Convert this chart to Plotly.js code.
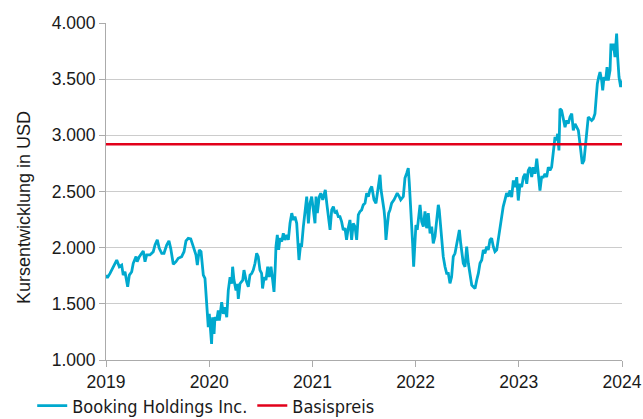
<!DOCTYPE html>
<html>
<head>
<meta charset="utf-8">
<script src="https://cdn.plot.ly/plotly-3.0.1.min.js"></script>
<style>html,body{margin:0;padding:0;background:#fff;}#chart{width:643px;height:419px;}</style>
</head>
<body>
<div id="chart"></div>
<script>
// Time positions in decimal years
const timeYears = [
2019.000,2019.013,2019.039,2019.071,2019.104,2019.129,2019.152,2019.167,2019.184,2019.210,2019.226,2019.249,2019.264,2019.291,2019.302,2019.323,2019.346,2019.361,2019.378,2019.394,2019.426,2019.458,2019.475,2019.497,2019.516,2019.540,2019.562,2019.588,2019.610,2019.627,2019.652,2019.678,2019.700,2019.733,2019.756,2019.775,2019.797,2019.821,2019.846,2019.872,2019.885,2019.904,2019.921,2019.943,2019.959,
2019.975,2019.991,2020.001,2020.014,2020.023,2020.033,2020.047,2020.056,2020.073,2020.088,2020.098,2020.111,2020.121,2020.137,2020.153,2020.170,2020.185,2020.202,2020.218,2020.227,2020.240,2020.260,2020.272,2020.282,2020.298,2020.325,2020.337,2020.357,2020.379,2020.395,2020.412,2020.427,2020.444,2020.460,2020.475,2020.492,2020.508,2020.517,2020.533,2020.550,2020.567,2020.581,2020.599,2020.615,2020.628,2020.640,2020.647,2020.660,2020.673,2020.686,2020.703,2020.718,2020.734,2020.751,2020.767,2020.783,2020.800,2020.815,2020.831,2020.848,2020.870,2020.887,
2020.895,2020.912,2020.928,2020.945,2020.961,2020.977,2020.993,2021.009,2021.025,2021.035,2021.048,2021.067,2021.081,2021.100,2021.112,2021.125,2021.139,2021.154,2021.171,2021.187,2021.203,2021.219,2021.235,2021.251,2021.267,2021.283,2021.299,2021.316,2021.331,2021.347,2021.364,2021.380,2021.396,2021.413,2021.429,2021.445,2021.461,2021.477,2021.493,2021.510,2021.526,2021.542,2021.558,2021.575,2021.584,2021.597,2021.616,2021.629,2021.645,2021.655,2021.665,2021.681,2021.694,2021.703,2021.713,2021.725,2021.739,2021.752,2021.768,2021.791,2021.810,2021.822,2021.842,2021.856,
2021.881,2021.897,2021.914,2021.929,2021.939,2021.952,2021.962,2021.971,2021.981,2021.990,2022.003,2022.016,2022.029,2022.043,2022.059,2022.075,2022.091,2022.107,2022.123,2022.140,2022.156,2022.171,2022.188,2022.204,2022.220,2022.229,2022.243,2022.256,2022.268,2022.285,2022.301,2022.317,2022.333,2022.349,2022.365,2022.382,2022.398,2022.414,2022.424,2022.437,2022.450,2022.462,2022.479,2022.495,2022.511,2022.527,2022.544,2022.559,2022.576,2022.592,2022.608,2022.624,2022.641,2022.656,2022.672,2022.689,2022.704,2022.721,2022.737,2022.753,2022.769,2022.786,2022.801,2022.818,2022.834,2022.849,2022.866,2022.882,2022.898,
2022.915,2022.931,2022.947,2022.963,2022.980,2022.995,2023.012,2023.028,2023.044,2023.060,2023.077,2023.092,2023.109,2023.125,2023.141,2023.157,2023.174,2023.189,2023.205,2023.221,2023.238,2023.254,2023.270,2023.286,2023.302,2023.318,2023.334,2023.351,2023.367,2023.376,2023.389,2023.399,2023.415,2023.431,2023.448,2023.464,2023.479,2023.496,2023.513,2023.528,2023.545,2023.561,2023.577,2023.593,2023.603,2023.615,2023.632,2023.645,2023.657,2023.673,2023.690,2023.706,2023.722,2023.738,2023.748,2023.761,2023.774,2023.787,2023.803,2023.813,2023.826,2023.842,2023.855,2023.867,2023.884,2023.893,2023.906,2023.916,2023.932,2023.948,2023.958,2023.971,2023.987,2024.000
];
// Booking Holdings share price in USD
const bookingPrice = [
1756,1732,1771,1830,1890,1830,1845,1756,1786,1652,1756,1786,1861,1920,1875,1920,1950,1970,1875,1935,1935,1964,2024,2069,1994,1950,1950,2024,2060,1994,1852,1875,1905,1920,1964,2060,2084,2078,2009,1935,1845,1980,1964,1756,1726,
1500,1292,1411,1262,1143,1381,1232,1381,1352,1441,1352,1441,1515,1411,1470,1381,1620,1738,1679,1830,1711,1620,1679,1545,1679,1711,1800,1711,1652,1756,1771,1800,1861,1950,1920,1800,1771,1637,1738,1711,1830,1738,1830,1711,1607,1830,2009,2113,1980,2084,2054,2128,2069,2113,2069,2217,2307,2247,2277,2217,1890,2039,
2006,2185,2336,2455,2217,2396,2455,2307,2217,2455,2307,2455,2485,2426,2485,2515,2396,2277,2158,2336,2366,2307,2322,2277,2277,2232,2158,2173,2069,2173,2247,2069,2217,2187,2069,2292,2322,2336,2381,2396,2485,2455,2515,2545,2485,2426,2396,2485,2545,2649,2515,2426,2336,2247,2069,2187,2307,2336,2396,2426,2455,2485,2455,2426,
2455,2619,2663,2708,2575,2396,2187,2039,1830,2009,2202,2158,2247,2381,2232,2187,2322,2173,2307,2128,2187,2039,2099,2217,2381,2336,2187,1980,1920,1830,1771,1771,1682,1741,1920,1950,2039,2099,2158,2039,1920,1861,1830,2009,1861,1771,1667,1652,1637,1711,1771,1861,1890,1980,1950,2009,1980,2069,2084,2009,1964,1980,2069,2187,2307,2366,2426,2485,2455,
2509,2450,2598,2539,2628,2420,2569,2539,2628,2658,2569,2688,2717,2628,2717,2658,2792,2658,2509,2628,2628,2658,2628,2717,2688,2717,2836,2985,2955,3014,2866,3237,3222,3133,3073,3133,3103,3163,3193,3044,3103,3073,3044,2925,2806,2747,2777,2925,3014,3163,3148,3133,3148,3193,3311,3460,3519,3563,3489,3400,3519,3489,3608,3489,3578,3816,3757,3816,3697,3906,3697,3519,3430,3489
];
// Strike price (Basispreis)
const basisYears = [2019, 2024];
const basisValues = [2920, 2920];
// Axis ticks
const xTickVals = [2019, 2020, 2021, 2022, 2023, 2024];
const yTickVals = [1000, 1500, 2000, 2500, 3000, 3500, 4000];
const yTitle = 'Kursentwicklung in USD';

const tickFont = {family: 'Liberation Sans, Arial, sans-serif', size: 17.5, color: '#1a1a1a'};
const titleFont = {family: 'Liberation Sans, Arial, sans-serif', size: 18, color: '#1a1a1a'};

const traces = [
  {x: timeYears, y: bookingPrice, type: 'scatter', mode: 'lines', name: 'Booking Holdings Inc.',
   line: {color: '#00a9ce', width: 2.8}},
  {x: basisYears, y: basisValues, type: 'scatter', mode: 'lines', name: 'Basispreis',
   line: {color: '#e2001a', width: 2.6}}
];

const layout = {
  width: 643, height: 419,
  margin: {l: 106, r: 21, t: 23, b: 59, autoexpand: false},
  paper_bgcolor: '#ffffff', plot_bgcolor: '#ffffff',
  separators: ',.',
  showlegend: true,
  legend: {orientation: 'h', x: -0.143, xanchor: 'left', y: -0.136, yanchor: 'middle',
    font: {family: 'DejaVu Sans Condensed, Liberation Sans Narrow, Arial Narrow, sans-serif', size: 18, color: '#1a1a1a'},
    bgcolor: 'rgba(0,0,0,0)'},
  xaxis: {
    range: [2019, 2024], tickvals: xTickVals, tickformat: 'd',
    showgrid: false, zeroline: false,
    showline: true, linecolor: '#ababab', linewidth: 1,
    ticks: 'outside', ticklen: 6, tickcolor: '#ababab',
    tickfont: tickFont
  },
  yaxis: {
    range: [1000, 4000], tickvals: yTickVals, tickformat: ',d',
    showgrid: true, gridcolor: '#cccccc', gridwidth: 1, zeroline: false,
    showline: true, linecolor: '#ababab', linewidth: 1,
    ticks: 'outside', ticklen: 6, tickcolor: '#ababab',
    tickfont: tickFont, automargin: false
  },
  annotations: [{
    text: yTitle, textangle: -90, showarrow: false,
    xref: 'paper', yref: 'paper', x: -0.159, y: 0.454,
    xanchor: 'center', yanchor: 'middle', font: titleFont
  }]
};

Plotly.newPlot('chart', traces, layout, {displayModeBar: false, staticPlot: true});
</script>
</body>
</html>
